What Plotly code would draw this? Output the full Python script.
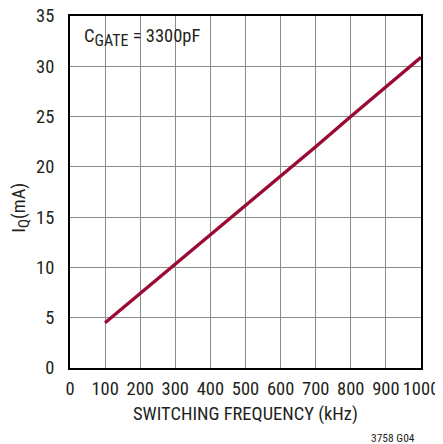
import plotly.graph_objects as go

freq_khz = [100, 200, 300, 400, 500, 600, 700, 800, 900, 1000]
iq_ma = [4.5, 7.4, 10.3, 13.3, 16.2, 19.1, 22.0, 25.0, 27.9, 30.9]
x_ticks = [0, 100, 200, 300, 400, 500, 600, 700, 800, 900, 1000]
y_ticks = [0, 5, 10, 15, 20, 25, 30, 35]

FONT = "Liberation Sans Narrow, Arial Narrow, Roboto Condensed, sans-serif"
FS = 18.5

fig = go.Figure()
fig.add_trace(go.Scatter(x=freq_khz, y=iq_ma, mode="lines",
                         line=dict(color="#9B0A33", width=3.4), showlegend=False))

axis_common = dict(showline=True, mirror=True, linecolor="black", linewidth=2,
                   showgrid=True, gridcolor="#8c8c8c", gridwidth=1.3,
                   zeroline=False, ticks="", automargin=False,
                   ticklabeloverflow="allow",
                   tickfont=dict(family=FONT, size=FS, color="#231f20"))

fig.update_xaxes(range=[0, 1000], tickvals=x_ticks, ticklabelstandoff=3, **axis_common)
fig.update_yaxes(range=[0, 35], tickvals=y_ticks, ticklabelstandoff=10, **axis_common)

fig.update_layout(
    width=435, height=436,
    margin=dict(l=62, r=22, t=8, b=76),
    plot_bgcolor="white", paper_bgcolor="white",
    font=dict(family=FONT, size=FS, color="#231f20"),
    annotations=[
        dict(text="C<sub><span style='font-size:16px'>GATE</span></sub> = 3300pF",
             xref="paper", yref="paper",
             x=0.035, y=0.94, xanchor="left", yanchor="middle",
             showarrow=False, font=dict(family=FONT, size=FS)),
        dict(text="SWITCHING FREQUENCY (kHz)", xref="paper", yref="paper",
             x=0.5, y=-0.13, xanchor="center", yanchor="middle",
             showarrow=False, font=dict(family=FONT, size=FS)),
        dict(text="I<sub><span style='font-size:15px'>Q</span></sub>(mA)",
             xref="paper", yref="paper",
             x=-0.14, y=0.455, xanchor="center", yanchor="middle", textangle=-90,
             showarrow=False, font=dict(family=FONT, size=FS)),
        dict(text="3758 G04", xref="paper", yref="paper",
             x=0.99, y=-0.198, xanchor="right", yanchor="middle",
             showarrow=False, font=dict(family=FONT, size=11.5)),
    ],
)

fig.write_html("out.html")
